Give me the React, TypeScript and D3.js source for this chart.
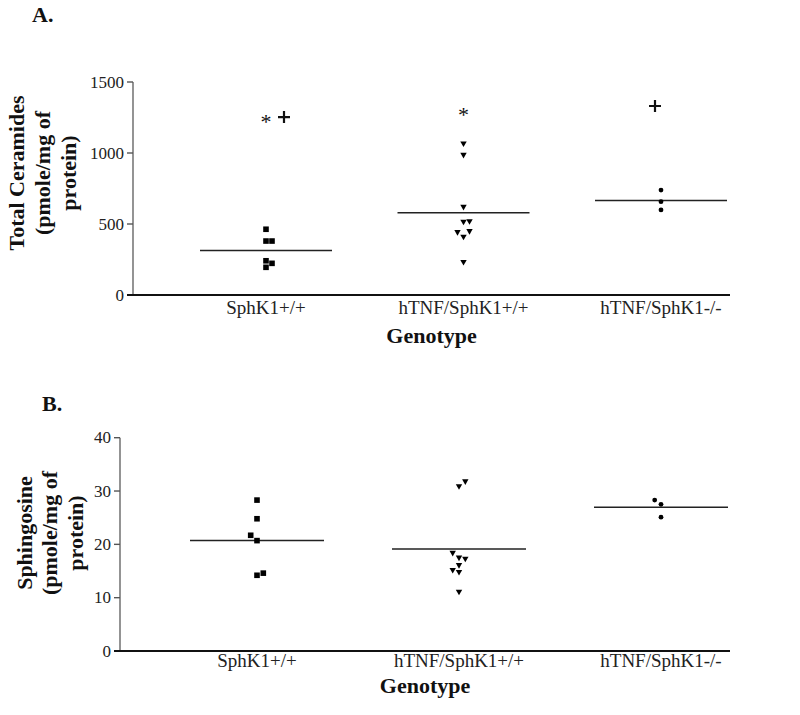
import React from "react";
import * as d3 from "d3";

// ---------- Data ----------
const categories = ["SphK1+/+", "hTNF/SphK1+/+", "hTNF/SphK1-/-"];

// Panel A: Total Ceramides (pmole/mg of protein)
const ceramideWT = [463, 380, 380, 241, 223, 195];
const ceramideWTSlots = [0, 0, 1, 0, 1, 0];
const ceramideTNF = [1063, 983, 617, 512, 516, 439, 446, 406, 228];
const ceramideTNFSlots = [0, 0, 0, 0, 1, -1, 1, 0, 0];
const ceramideKO = [739, 657, 599];
const ceramideKOSlots = [0, 0, 0];
const ceramideTicks = [0, 500, 1000, 1500];
const ceramideAnnotations = [
  { cat: "SphK1+/+", value: 1246, symbol: "*", slot: 0 },
  { cat: "SphK1+/+", value: 1253, symbol: "+", slot: 3 },
  { cat: "hTNF/SphK1+/+", value: 1296, symbol: "*", slot: 0 },
  { cat: "hTNF/SphK1-/-", value: 1331, symbol: "+", slot: -1 },
];

// Panel B: Sphingosine (pmole/mg of protein)
const sphWT = [28.3, 24.8, 21.7, 20.7, 14.2, 14.6];
const sphWTSlots = [0, 0, -1, 0, 0, 1];
const sphTNF = [30.8, 31.7, 18.3, 17.4, 17.2, 16.0, 15.1, 14.7, 11.0];
const sphTNFSlots = [0, 1, -1, 0, 1, 0, -1, 0, 0];
const sphKO = [28.3, 27.5, 25.1];
const sphKOSlots = [-1, 0, 0];
const sphTicks = [0, 10, 20, 30, 40];

const FONT = "'Liberation Serif', 'Times New Roman', Times, serif";

type Group = { values: number[]; slots: number[]; shape: "square" | "triangle" | "circle" };

function Marker({ shape, x, y }: { shape: string; x: number; y: number }) {
  if (shape === "square") {
    return <rect x={x - 2.8} y={y - 2.8} width={5.6} height={5.6} fill="#000" />;
  }
  if (shape === "triangle") {
    const p = d3.path();
    p.moveTo(x - 3.2, y - 2.6);
    p.lineTo(x + 3.2, y - 2.6);
    p.lineTo(x, y + 3);
    p.closePath();
    return <path d={p.toString()} fill="#000" />;
  }
  return <circle cx={x} cy={y} r={2.4} fill="#000" />;
}

function Panel(props: {
  letter: string;
  letterX: number;
  letterY: number;
  axisX: number;
  axisRight: number;
  yTop: number;
  yBottom: number;
  domainMax: number;
  ticks: number[];
  xFirst: number;
  xLast: number;
  groups: Group[];
  titleLines: string[];
  titleXs: number[];
  titleY: number;
  catLabelDy: number;
  genotypeDy: number;
  slotStep: number;
  halfMean: number;
  annotations?: { cat: string; value: number; symbol: string; slot: number }[];
}) {
  const y = d3.scaleLinear().domain([0, props.domainMax]).range([props.yBottom, props.yTop]);
  const x = d3.scalePoint<string>().domain(categories).range([props.xFirst, props.xLast]);
  const axisMid = (props.axisX + props.axisRight) / 2;
  return (
    <g>
      <text x={props.letterX} y={props.letterY} fontFamily={FONT} fontWeight="bold" fontSize={22} fill="#111">
        {props.letter}
      </text>
      {/* y axis */}
      <line x1={props.axisX} x2={props.axisX} y1={props.yTop} y2={props.yBottom} stroke="#666" strokeWidth={1.4} />
      {props.ticks.map((t) => (
        <g key={t}>
          <line x1={props.axisX - 6} x2={props.axisX} y1={y(t)} y2={y(t)} stroke="#555" strokeWidth={1.4} />
          <text
            x={props.axisX - 9}
            y={y(t)}
            textAnchor="end"
            dominantBaseline="central"
            fontFamily={FONT}
            fontSize={17}
            fill="#222"
          >
            {t}
          </text>
        </g>
      ))}
      {/* x axis */}
      <line x1={props.axisX - 6} x2={props.axisRight} y1={props.yBottom} y2={props.yBottom} stroke="#111" strokeWidth={2} />
      {categories.map((c) => (
        <text
          key={c}
          x={x(c)}
          y={props.yBottom + props.catLabelDy}
          textAnchor="middle"
          fontFamily={FONT}
          fontSize={19}
          fill="#222"
        >
          {c}
        </text>
      ))}
      <text
        x={axisMid}
        y={props.yBottom + props.genotypeDy}
        textAnchor="middle"
        fontFamily={FONT}
        fontWeight="bold"
        fontSize={22}
        fill="#111"
      >
        Genotype
      </text>
      {/* y title */}
      {props.titleLines.map((l, i) => (
        <text
          key={i}
          transform={`translate(${props.titleXs[i]},${props.titleY}) rotate(-90)`}
          textAnchor="middle"
          fontFamily={FONT}
          fontWeight="bold"
          fontSize={22}
          fill="#111"
        >
          {l}
        </text>
      ))}
      {/* groups */}
      {props.groups.map((g, gi) => {
        const cx = x(categories[gi]) as number;
        const m = d3.mean(g.values) as number;
        return (
          <g key={gi}>
            <line
              x1={cx - props.halfMean}
              x2={cx + props.halfMean}
              y1={y(m)}
              y2={y(m)}
              stroke="#222"
              strokeWidth={1.5}
            />
            {g.values.map((v, i) => (
              <Marker key={i} shape={g.shape} x={cx + g.slots[i] * props.slotStep} y={y(v)} />
            ))}
          </g>
        );
      })}
      {(props.annotations || []).map((a, i) => {
        const ax = (x(a.cat) as number) + a.slot * props.slotStep;
        const ay = y(a.value);
        if (a.symbol === "+") {
          const p = d3.path();
          p.moveTo(ax - 6, ay);
          p.lineTo(ax + 6, ay);
          p.moveTo(ax, ay - 6);
          p.lineTo(ax, ay + 6);
          return <path key={i} d={p.toString()} stroke="#111" strokeWidth={2.2} fill="none" />;
        }
        return (
          <text key={i} x={ax} y={ay + 11} textAnchor="middle" fontFamily={FONT} fontSize={22} fill="#111">
            *
          </text>
        );
      })}
    </g>
  );
}

export default function App() {
  return (
    <svg
      width={800}
      height={715}
      style={{ position: "absolute", left: 0, top: 0, background: "#fff" }}
    >
      <rect width={800} height={715} fill="#fff" />
      <Panel
        letter="A."
        letterX={32}
        letterY={22}
        axisX={133}
        axisRight={730}
        yTop={82}
        yBottom={295}
        domainMax={1500}
        ticks={ceramideTicks}
        xFirst={266}
        xLast={661}
        groups={[
          { values: ceramideWT, slots: ceramideWTSlots, shape: "square" },
          { values: ceramideTNF, slots: ceramideTNFSlots, shape: "triangle" },
          { values: ceramideKO, slots: ceramideKOSlots, shape: "circle" },
        ]}
        titleLines={["Total Ceramides", "(pmole/mg of", "protein)"]}
        titleXs={[24, 50, 76]}
        titleY={173}
        catLabelDy={19}
        genotypeDy={48}
        slotStep={6}
        halfMean={66}
        annotations={ceramideAnnotations}
      />
      <Panel
        letter="B."
        letterX={42}
        letterY={411}
        axisX={120}
        axisRight={730}
        yTop={437.7}
        yBottom={651}
        domainMax={40}
        ticks={sphTicks}
        xFirst={257}
        xLast={661}
        groups={[
          { values: sphWT, slots: sphWTSlots, shape: "square" },
          { values: sphTNF, slots: sphTNFSlots, shape: "triangle" },
          { values: sphKO, slots: sphKOSlots, shape: "circle" },
        ]}
        titleLines={["Sphingosine", "(pmole/mg of", "protein)"]}
        titleXs={[32, 57, 83]}
        titleY={533}
        catLabelDy={16}
        genotypeDy={42}
        slotStep={6.3}
        halfMean={67}
      />
    </svg>
  );
}
